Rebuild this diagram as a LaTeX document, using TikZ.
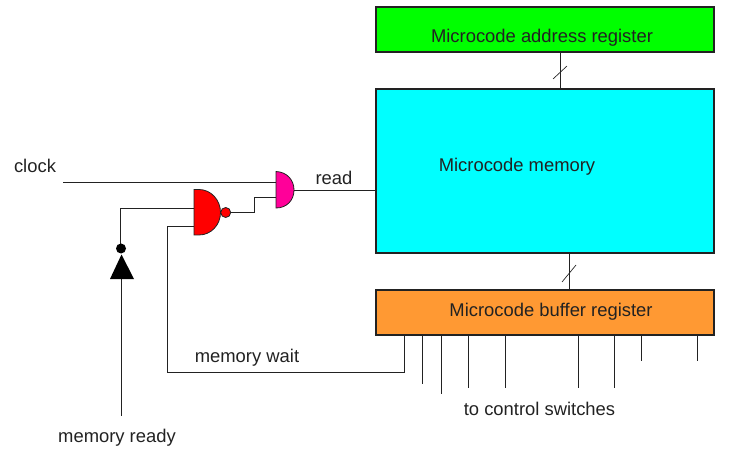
\documentclass[tikz,border=0pt]{standalone}
\usepackage{fontspec}
\setmainfont{Liberation Sans}
\definecolor{orangebox}{HTML}{FF9933}
\definecolor{pinkgate}{HTML}{FF0099}
\definecolor{greenbox}{HTML}{00FF00}
\definecolor{cyanbox}{HTML}{00FFFF}
\definecolor{redgate}{HTML}{FF0000}
\definecolor{ink}{HTML}{222222}
\tikzset{
  box/.style={draw=ink,line width=0.8pt},
  wire/.style={draw=ink,line width=0.7pt},
  slash/.style={draw=ink,line width=0.5pt},
  lab/.style={text=ink,inner sep=0pt,font=\fontsize{13.8}{15}\selectfont},
  gatebody/.style={draw=ink,line width=0.6pt}
}
\begin{document}
\begin{tikzpicture}[x=0.75pt,y=-0.75pt]
\useasboundingbox (0,0) rectangle (730,459);
% boxes
\filldraw[box,fill=greenbox] (376,7) rectangle (714,52);
\filldraw[box,fill=cyanbox] (376,89) rectangle (714,253);
\filldraw[box,fill=orangebox] (376,290) rectangle (714,335);
\coordinate (addrS) at (560,52);
\coordinate (memN) at (560,89);
\coordinate (memS) at (569,253);
\coordinate (bufN) at (569,290);
\coordinate (memW) at (376,190);
% gates
\coordinate (clockEnd) at (63,182);
\coordinate (andA) at (277,182);
\coordinate (andB) at (276,197);
\coordinate (andO) at (294,190);
\coordinate (nandA) at (194,208);
\coordinate (nandB) at (194,226);
\coordinate (nandO) at (231,212);
\coordinate (invTop) at (120.5,244);
\coordinate (invBot) at (121.7,279);
\coordinate (readyEnd) at (121.7,416);
\coordinate (waitStart) at (404,335);
% wires
\draw[wire] (addrS) -- (memN);
\draw[wire] (memS) -- (bufN);
\draw[slash] (553,79) -- (567,66);
\draw[slash] (562,282) -- (576,265);
\draw[wire] (clockEnd) -- (andA);
\draw[wire] (andO) -- (memW);
\draw[wire] (nandO) -- (254,212) -- (254,197) -- (andB);
\draw[wire] (invTop) -- (120.5,208) -- (nandA);
\draw[wire] (waitStart) -- (404,372) -- (167,372) -- (167,226) -- (nandB);
\draw[wire] (invBot) -- (readyEnd);
% output stubs
\foreach \x/\y in {422/384,441/394,468/388,505.5/388,578/388,614/388,641.5/361,697/361}
  \draw[wire] (\x,335) -- (\x,\y);
% nand gate
\filldraw[gatebody,fill=redgate] (194,189.5) -- (199,189.5) .. controls (211,189.5) and (220.5,200) .. (220.5,212.5) .. controls (220.5,225) and (211,235) .. (199,235) -- (194,235) -- cycle;
\filldraw[gatebody,fill=redgate] (225.7,212.5) circle[radius=5];
% and gate
\filldraw[gatebody,fill=pinkgate] (276,171.5) .. controls (287,172) and (294,180) .. (294,190) .. controls (294,200) and (287,208) .. (276,208) -- cycle;
% inverter
\fill[black] (121.5,254.5) -- (134,279) -- (110,279) -- cycle;
\fill[black] (121,248.5) circle[radius=5];
% labels
\node[lab] (clk) at (35,166) {clock};
\node[lab] (rd) at (334,178) {read};
\node[lab] (mm) at (517,167) {Microcode memory};
\node[lab] (mar) at (542,38) {Microcode address register};
\node[lab] (mbr) at (551,312) {Microcode buffer register};
\node[lab] (mw) at (247,358) {memory wait};
\node[lab] (tcs) at (539.5,409) {to control switches};
\node[lab] (mr) at (117,438) {memory ready};
\end{tikzpicture}
\end{document}
